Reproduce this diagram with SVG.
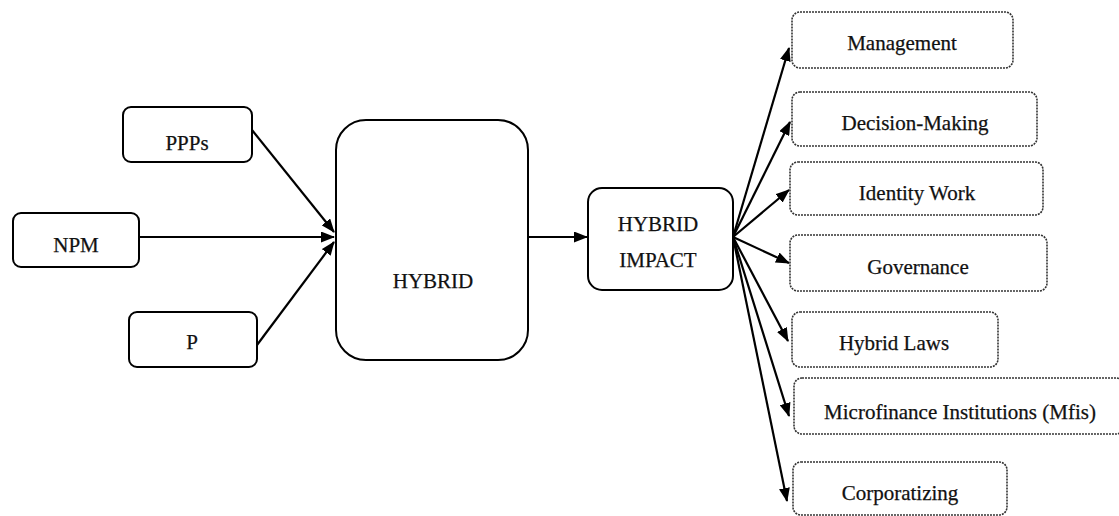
<svg xmlns="http://www.w3.org/2000/svg" width="1119" height="516" viewBox="0 0 1119 516">
<style>
.solid{fill:#fff;stroke:#000;stroke-width:2}
.dot{fill:#fff;stroke:#333;stroke-width:1.6;stroke-dasharray:2 1}
text{font-family:"Liberation Serif","Times New Roman",serif;font-size:21px;fill:#111;stroke:#111;stroke-width:0.25;text-anchor:middle}
.conn line{stroke:#000;stroke-width:2.2;fill:none}
</style>
<defs>
<marker id="ah" markerWidth="14" markerHeight="11" refX="13" refY="5.5" orient="auto" markerUnits="userSpaceOnUse">
<path d="M0,0 L14,5.5 L0,11 z" fill="#000"/>
</marker>
</defs>
<g class="conn">
<line x1="252" y1="130" x2="334" y2="232" marker-end="url(#ah)"/>
<line x1="139" y1="237" x2="334" y2="237" marker-end="url(#ah)"/>
<line x1="257" y1="345" x2="334" y2="242" marker-end="url(#ah)"/>
<line x1="528" y1="237" x2="587" y2="237" marker-end="url(#ah)"/>
<line x1="733" y1="237" x2="789" y2="48" marker-end="url(#ah)"/>
<line x1="733" y1="237" x2="790" y2="122" marker-end="url(#ah)"/>
<line x1="733" y1="237" x2="789" y2="190" marker-end="url(#ah)"/>
<line x1="733" y1="237" x2="789" y2="263" marker-end="url(#ah)"/>
<line x1="733" y1="237" x2="788" y2="341" marker-end="url(#ah)"/>
<line x1="733" y1="237" x2="789" y2="416" marker-end="url(#ah)"/>
<line x1="733" y1="237" x2="787" y2="501" marker-end="url(#ah)"/>
</g>
<g id="ppps"><rect class="solid" x="123" y="107" width="129" height="55" rx="8"/><text x="187" y="150">PPPs</text></g>
<g id="npm"><rect class="solid" x="13" y="213" width="126" height="54" rx="8"/><text x="76" y="252">NPM</text></g>
<g id="p"><rect class="solid" x="129" y="312" width="128" height="55" rx="8"/><text x="192" y="349">P</text></g>
<g id="hybrid"><rect class="solid" x="336" y="120" width="192" height="240" rx="30"/><text x="433" y="288">HYBRID</text></g>
<g id="impact"><rect class="solid" x="588" y="188" width="145" height="102" rx="14"/><text x="658" y="231">HYBRID</text><text x="658" y="267">IMPACT</text></g>
<g id="management"><rect class="dot" x="792" y="12" width="221" height="56" rx="8"/><text x="902" y="50">Management</text></g>
<g id="decision"><rect class="dot" x="792" y="92" width="245" height="54" rx="8"/><text x="915" y="130">Decision-Making</text></g>
<g id="identity"><rect class="dot" x="790" y="162" width="253" height="53" rx="8"/><text x="917" y="200">Identity Work</text></g>
<g id="governance"><rect class="dot" x="790" y="235" width="257" height="56" rx="8"/><text x="918" y="274">Governance</text></g>
<g id="laws"><rect class="dot" x="792" y="312" width="206" height="55" rx="8"/><text x="894" y="350">Hybrid Laws</text></g>
<g id="mfis"><rect class="dot" x="794" y="378" width="330" height="56" rx="8"/><text x="960" y="419">Microfinance Institutions (Mfis)</text></g>
<g id="corp"><rect class="dot" x="793" y="462" width="214" height="53" rx="8"/><text x="900" y="500">Corporatizing</text></g>
</svg>
